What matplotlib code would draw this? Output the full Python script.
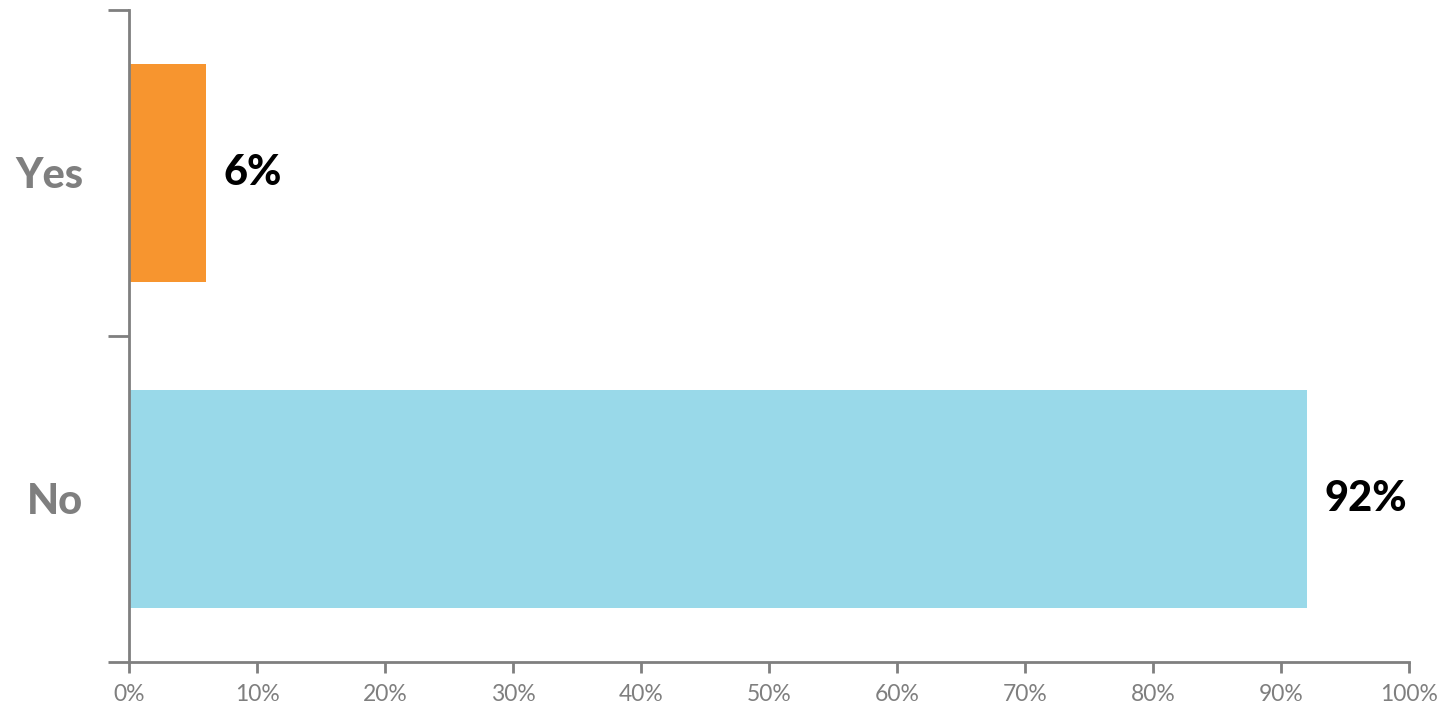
import matplotlib
matplotlib.use("Agg")
import matplotlib.pyplot as plt
from matplotlib.ticker import FuncFormatter

categories = ["No", "Yes"]
values = [92, 6]
bar_colors = ["#99D9E9", "#F7952F"]
x_ticks = list(range(0, 101, 10))

plt.rcParams["font.family"] = ["Lato", "DejaVu Sans"]
grey = "#7F7F7F"

fig = plt.figure(figsize=(14.45, 7.10), dpi=100)
ax = fig.add_axes([129 / 1445, 1 - 662 / 710, (1409 - 129) / 1445, (662 - 10) / 710])

pos = list(range(len(categories)))
ax.barh(pos, values, height=0.67, color=bar_colors, zorder=2)

for p, v in zip(pos, values):
    ax.text(v + 1.4, p, f"{v}%", va="center", ha="left",
            fontsize=30, fontweight=900, color="black")

ax.set_xlim(0, 100)
ax.set_ylim(-0.5, 1.5)
ax.set_xticks(x_ticks)
ax.xaxis.set_major_formatter(FuncFormatter(lambda x, _: f"{x:.0f}%"))
ax.tick_params(axis="x", length=8, width=2, color=grey, labelcolor=grey,
               labelsize=16.5, pad=8, direction="out")

# category labels sit between the boundary ticks
ax.set_yticks([-0.5, 0.5, 1.5])
ax.set_yticklabels([])
ax.set_yticks(pos, minor=True)
ax.set_yticklabels(categories, minor=True)
ax.tick_params(axis="y", which="major", length=15, width=2, color=grey)
ax.tick_params(axis="y", which="minor", length=0, pad=33,
               labelsize=30, labelcolor=grey)
for lbl in ax.get_yticklabels(minor=True):
    lbl.set_fontweight(900)

for side in ["top", "right"]:
    ax.spines[side].set_visible(False)
for side in ["left", "bottom"]:
    ax.spines[side].set_color(grey)
    ax.spines[side].set_linewidth(2)

fig.savefig("out.png", dpi=100, facecolor="white")
